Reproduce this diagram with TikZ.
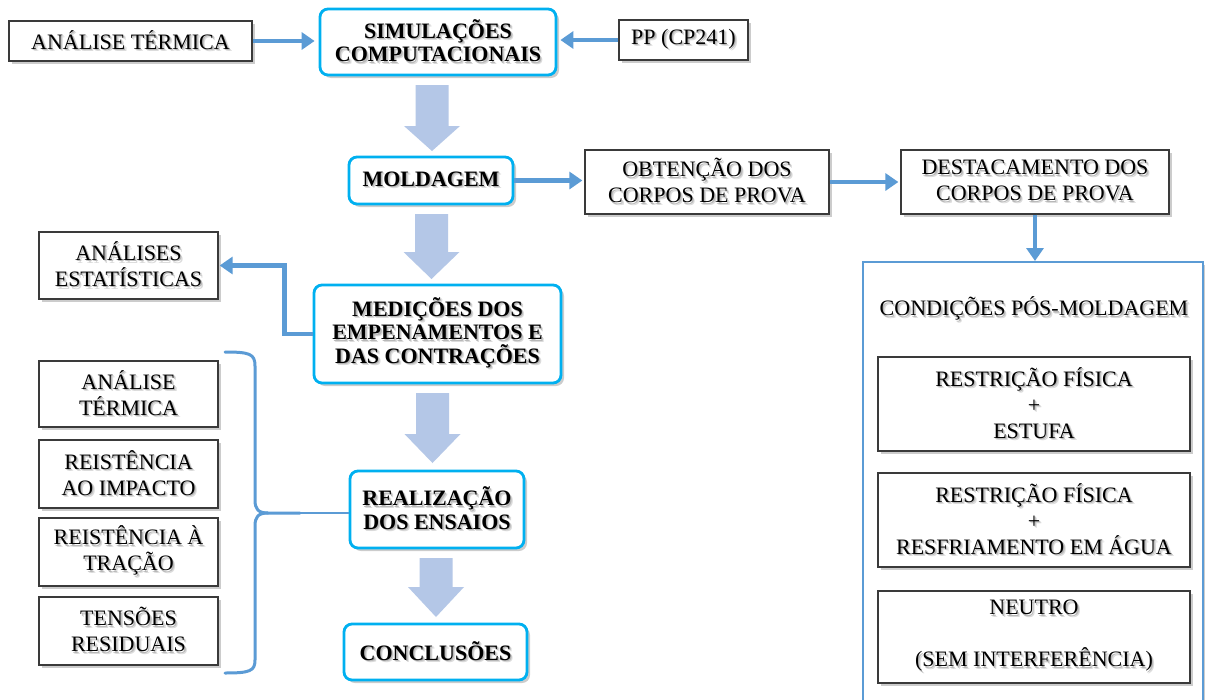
\documentclass[tikz,border=0pt]{standalone}
\usepackage{fontspec}
\setmainfont{Liberation Serif}
\usetikzlibrary{arrows.meta,shadows,calc}

\definecolor{flowblue}{HTML}{5B9BD5}
\definecolor{boxcyan}{HTML}{00B0F0}
\definecolor{blockfill}{HTML}{B4C7E7}
\definecolor{edgegray}{HTML}{3A3A3A}

% text with a soft grey shadow behind it
\newcommand\sh[1]{\leavevmode
  \rlap{\kern2.4pt\raisebox{-2.4pt}{\textcolor{black!14}{#1}}}%
  \rlap{\kern1.3pt\raisebox{-1.3pt}{\textcolor{black!28}{#1}}}#1}

% wide pale arrow between stages: x, top, start of head, tip
\newcommand\blockarrow[4]{%
  \fill[blockfill] ({#1-16.5},#2) -- ({#1+16.5},#2) -- ({#1+16.5},#3)
    -- ({#1+28},#3) -- (#1,#4) -- ({#1-28},#3) -- ({#1-16.5},#3) -- cycle;}

\tikzset{
  boxshadow/.style={drop shadow={shadow xshift=3pt,shadow yshift=-3pt,opacity=0.2,fill=black}},
  txt/.style={font=\fontsize{22}{26}\selectfont, align=center, inner sep=0pt},
  plainbox/.style={txt, draw=edgegray, line width=1.3pt, fill=white, boxshadow},
  stagebox/.style={txt, font=\fontsize{22}{23.5}\selectfont\bfseries, draw=boxcyan,
    line width=2.8pt, rounded corners=8pt, fill=white, boxshadow},
  panelbox/.style={draw=flowblue, line width=2pt, fill=white, boxshadow},
  flow/.style={draw=flowblue, line width=4.5pt, -{Triangle[length=13pt,width=17pt]}},
  bracefig/.style={draw=flowblue, line width=3pt, line cap=round},
}

\begin{document}
\begin{tikzpicture}[x=1pt,y=-1pt]
\useasboundingbox (0,0) rectangle (1205,699);
\clip (0,0) rectangle (1205,699);
\fill[white] (0,0) rectangle (1205,699);

% top row
\node[plainbox, minimum width=243pt, minimum height=40pt] (anal) at (130.5,41) {\sh{ANÁLISE TÉRMICA}};
\node[stagebox, minimum width=236pt, minimum height=66pt] (sim) at (438,42) {\sh{SIMULAÇÕES}\\\sh{COMPUTACIONAIS}};
\node[plainbox, minimum width=129pt, minimum height=40pt] (pp) at (683.5,40) {\sh{PP (CP241)}};

% moulding row
\node[stagebox, minimum width=164pt, minimum height=47pt] (mold) at (431,180.5) {\sh{MOLDAGEM}};
\node[plainbox, minimum width=244pt, minimum height=64pt] (obt) at (707,182) {\sh{OBTENÇÃO DOS}\\\sh{CORPOS DE PROVA}};
\node[plainbox, minimum width=268pt, minimum height=64pt] (dest) at (1035,182) {\sh{DESTACAMENTO DOS}\\\sh{CORPOS DE PROVA}};

% measurements
\node[plainbox, minimum width=179pt, minimum height=67pt] (stat) at (128.5,265.5) {\sh{ANÁLISES}\\\sh{ESTATÍSTICAS}};
\node[stagebox, minimum width=247pt, minimum height=98pt] (med) at (437.5,334) {\sh{MEDIÇÕES DOS}\\\sh{EMPENAMENTOS E}\\\sh{DAS CONTRAÇÕES}};

% tests
\node[plainbox, minimum width=179pt, minimum height=66pt] (t1) at (128.5,394) {\sh{ANÁLISE}\\\sh{TÉRMICA}};
\node[plainbox, minimum width=179pt, minimum height=68pt] (t2) at (128.5,474) {\sh{REISTÊNCIA}\\\sh{AO IMPACTO}};
\node[plainbox, minimum width=179pt, minimum height=68pt] (t3) at (128.5,552) {\sh{REISTÊNCIA À}\\\sh{TRAÇÃO}};
\node[plainbox, minimum width=179pt, minimum height=68pt] (t4) at (128.5,631) {\sh{TENSÕES}\\\sh{RESIDUAIS}};
\node[stagebox, minimum width=174pt, minimum height=77pt] (real) at (437,509.5) {\sh{REALIZAÇÃO}\\\sh{DOS ENSAIOS}};
\node[stagebox, minimum width=183pt, minimum height=56pt] (conc) at (435.5,652) {\sh{CONCLUSÕES}};

% post-moulding conditions
\node[panelbox, minimum width=340pt, minimum height=458pt] (pan) at (1033,491) {};
\node[txt] (cond) at (1034,310) {\sh{CONDIÇÕES PÓS-MOLDAGEM}};
\node[plainbox, minimum width=312pt, minimum height=94pt] (c1) at (1034,404) {\sh{RESTRIÇÃO FÍSICA}\\\sh{+}\\\sh{ESTUFA}};
\node[plainbox, minimum width=312pt, minimum height=94pt] (c2) at (1034,520) {\sh{RESTRIÇÃO FÍSICA}\\\sh{+}\\\sh{RESFRIAMENTO EM ÁGUA}};
\node[plainbox, minimum width=312pt, minimum height=92pt] (c3) at (1034,637) {\sh{NEUTRO}\\[26pt]\sh{(SEM INTERFERÊNCIA)}};

% wide stage arrows
\blockarrow{432}{85}{126}{151}
\blockarrow{431.5}{214}{252}{279}
\blockarrow{432.5}{393}{434}{463}
\blockarrow{436}{558}{587}{617}

% connectors
\draw[flow, shorten >=4pt] (anal.east) -- (anal.east -| sim.west);
\draw[flow, shorten >=3pt] (pp.west) -- (pp.west -| sim.east);
\draw[flow, shorten >=2pt] (mold.east) -- (mold.east -| obt.west);
\draw[flow, shorten >=2pt] (obt.east) -- (dest.west);
\draw[flow] (dest.south) -- (dest.south |- pan.north);
\draw[flow, shorten >=1pt] (med.west) -- ++(-28,0) |- (stat.east);

% brace grouping the tests
\coordinate (btip) at (300,513);
\draw[bracefig] (225,352) .. controls (250,352) and (255,354) .. (255,366) -- (255,500)
  .. controls (255,509) and (258,513) .. (268,513) -- (btip);
\draw[bracefig] (268,513) .. controls (258,513) and (255,517) .. (255,526) -- (255,660)
  .. controls (255,671) and (250,673) .. (225,673);
\draw[flowblue, line width=1.5pt] (btip) -- (btip -| real.west);
\end{tikzpicture}
\end{document}
